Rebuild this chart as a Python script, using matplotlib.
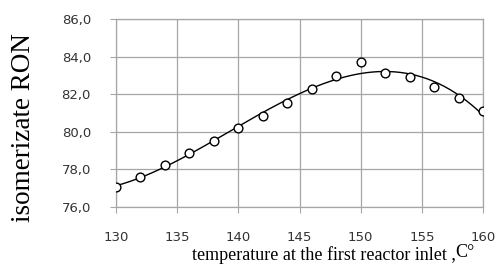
import matplotlib.pyplot as plt
import numpy as np

# readings from the reference picture
temp = [130, 132, 134, 136, 138, 140, 142, 144, 146, 148, 150, 152, 154, 156, 158, 160]
ron = [77.05, 77.62, 78.25, 78.88, 79.52, 80.18, 80.86, 81.53, 82.26, 82.97, 83.72, 83.13,
       82.91, 82.4, 81.81, 81.12]
x_ticks = [130, 135, 140, 145, 150, 155, 160]
y_ticks = [76, 78, 80, 82, 84, 86]

# polynomial trend line through the points
coef = np.polyfit(temp, ron, 3)
xs = np.linspace(130, 160, 200)
ys = np.polyval(coef, xs)

W, H = 497, 268
fig = plt.figure(figsize=(W / 100, H / 100), dpi=100)
ax = fig.add_axes([116 / W, 1 - 207 / H, 367 / W, 188 / H])

ax.plot(xs, ys, color='black', lw=1.0, zorder=3)
ax.plot(temp, ron, 'o', ms=6.3, mfc='white', mec='black', mew=1.0, zorder=4)

ax.set_xlim(130, 160)
ax.set_ylim(76, 86)
ax.set_xticks(x_ticks)
ax.set_yticks(y_ticks)
ax.set_yticklabels([f"{v:.1f}".replace('.', ',') for v in y_ticks])
ax.grid(True, color='#a6a6a6', lw=0.9)
for s in ax.spines.values():
    s.set_color('#a6a6a6')
    s.set_linewidth(0.9)
ax.tick_params(axis='x', colors='#a6a6a6', length=4, pad=13, labelcolor='#333333', labelsize=9.5)
ax.tick_params(axis='y', colors='#a6a6a6', length=4, pad=14, labelcolor='#333333', labelsize=9.5)

# axis titles placed by hand, as in the source
fig.text(24 / W, 1 - 128 / H, 'isomerizate RON', family='Liberation Serif', fontsize=19.5,
         rotation=90, ha='center', va='center')
fig.text(192 / W, 1 - 260 / H, 'temperature at the first reactor inlet ,', family='Liberation Serif',
         fontsize=13, ha='left', va='baseline')
fig.text(455 / W, 1 - 257 / H, 'C°', family='Liberation Serif', fontsize=13, ha='left', va='baseline')

fig.savefig('out.png', dpi=100)
